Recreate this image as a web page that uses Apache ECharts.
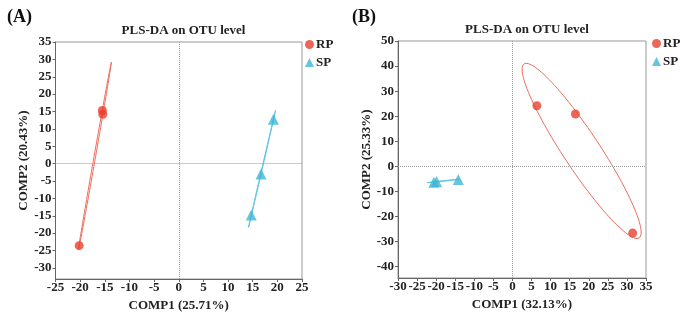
<!DOCTYPE html>
<html>
<head>
<meta charset="utf-8">
<script src="https://cdn.jsdelivr.net/npm/echarts@6/dist/echarts.min.js"></script>
<style>
  html, body { margin: 0; padding: 0; background: #fff; }
  #main { width: 685px; height: 312px; }
</style>
</head>
<body>
<div id="main"></div>
<script>
	// 数据 (A)
	var rpA_x = [-15.5, -15.4, -20.2];
	var rpA_y = [15.3, 14.2, -23.6];
	var spA_x = [19.2, 16.7, 14.7];
	var spA_y = [12.8, -3.0, -14.8];
	// 数据 (B)
	var rpB_x = [6.4, 16.5, 31.5];
	var rpB_y = [24.2, 20.9, -26.6];
	var spB_x = [-20.6, -19.9, -14.2];
	var spB_y = [-6.3, -6.0, -5.2];

	var yTicksA = [-30, -25, -20, -15, -10, -5, 0, 5, 10, 15, 20, 25, 30, 35];
	var yTicksB = [-40, -30, -20, -10, 0, 10, 20, 30, 40, 50];

	var RED = '#E8412E', CYAN = '#3DB6D5';
	var FONT = 'Liberation Serif';

	function pairs(xs, ys) {
		var out = [];
		for (var i = 0; i < xs.length; i++) out.push([xs[i], ys[i]]);
		return out;
	}

	// 置信椭圆 (由各组样本的协方差求得)
	function ellipse(xs, ys, ka, kb) {
		var n = xs.length, mx = 0, my = 0;
		for (var i = 0; i < n; i++) { mx += xs[i]; my += ys[i]; }
		mx /= n; my /= n;
		var sxx = 0, syy = 0, sxy = 0;
		for (var j = 0; j < n; j++) {
			var dx = xs[j] - mx, dy = ys[j] - my;
			sxx += dx * dx; syy += dy * dy; sxy += dx * dy;
		}
		sxx /= (n - 1); syy /= (n - 1); sxy /= (n - 1);
		var tr = sxx + syy, det = sxx * syy - sxy * sxy;
		var d = Math.sqrt(Math.max(tr * tr / 4 - det, 0));
		var l1 = tr / 2 + d, l2 = Math.max(tr / 2 - d, 0);
		var ang = Math.atan2(l1 - sxx, sxy);
		var a = ka * Math.sqrt(l1), b = kb * Math.sqrt(l2);
		var pts = [];
		for (var t = 0; t <= 120; t++) {
			var th = t / 120 * Math.PI * 2;
			var ex = a * Math.cos(th), ey = b * Math.sin(th);
			pts.push([mx + ex * Math.cos(ang) - ey * Math.sin(ang),
			          my + ex * Math.sin(ang) + ey * Math.cos(ang)]);
		}
		return pts;
	}

	function xAxisCfg(idx, name, min, max) {
		return {
			gridIndex: idx, type: 'value', min: min, max: max, interval: 5,
			name: name, nameLocation: 'middle', nameGap: 16,
			nameTextStyle: { fontFamily: FONT, fontWeight: 'bold', fontSize: 13, color: '#222' },
			axisLine: { onZero: false, lineStyle: { color: '#666' } },
			axisTick: { show: true, length: 3, lineStyle: { color: '#666' } },
			axisLabel: { fontFamily: FONT, fontWeight: 'bold', fontSize: 13, color: '#222', margin: 2 },
			splitLine: { show: false }
		};
	}
	function yAxisCfg(idx, name, min, max, ticks, gap) {
		return {
			gridIndex: idx, type: 'value', min: min, max: max,
			name: name, nameLocation: 'middle', nameGap: gap,
			nameTextStyle: { fontFamily: FONT, fontWeight: 'bold', fontSize: 13, color: '#222' },
			axisLine: { onZero: false, lineStyle: { color: '#666' } },
			axisTick: { show: true, length: 3, customValues: ticks, lineStyle: { color: '#666' } },
			axisLabel: { fontFamily: FONT, fontWeight: 'bold', fontSize: 13, color: '#222', margin: 4, customValues: ticks },
			splitLine: { show: false }
		};
	}
	function zeroLines() {
		return {
			silent: true, symbol: 'none', label: { show: false },
			lineStyle: { type: 'dotted', color: '#999', width: 1 },
			data: [{ xAxis: 0 }, { yAxis: 0 }]
		};
	}
	function ellSeries(idx, data, color) {
		return {
			type: 'line', xAxisIndex: idx, yAxisIndex: idx, data: data,
			showSymbol: false, symbol: 'none', smooth: false, silent: true, z: 1,
			lineStyle: { color: color, width: 1 }, tooltip: { show: false }
		};
	}
	function legendCfg(left, top) {
		return {
			orient: 'vertical', left: left, top: top, padding: 0,
			itemWidth: 9, itemHeight: 9, itemGap: 5,
			textStyle: { fontFamily: FONT, fontWeight: 'bold', fontSize: 13, color: '#222', padding: [0, 0, 0, -3] },
			data: [{ name: 'RP', icon: 'circle' }, { name: 'SP', icon: 'triangle' }]
		};
	}

	var chart = echarts.init(document.getElementById('main'));
	chart.setOption({
		animation: false,
		title: [
			{ text: '(A)', left: 2, top: 3, textStyle: { fontFamily: FONT, fontWeight: 'bold', fontSize: 18, color: '#111' } },
			{ text: '(B)', left: 347, top: 3, textStyle: { fontFamily: FONT, fontWeight: 'bold', fontSize: 18, color: '#111' } },
			{ text: 'PLS-DA on OTU level', left: 178.5, top: 19, textAlign: 'center',
			  textStyle: { fontFamily: FONT, fontWeight: 'bold', fontSize: 13, color: '#222' } },
			{ text: 'PLS-DA on OTU level', left: 522, top: 18, textAlign: 'center',
			  textStyle: { fontFamily: FONT, fontWeight: 'bold', fontSize: 13, color: '#222' } }
		],
		legend: [legendCfg(305, 38), legendCfg(652, 37)],
		grid: [
			{ left: 55.5, top: 42, width: 246.5, height: 237, show: true, borderColor: '#999', borderWidth: 1, outerBoundsMode: 'none' },
			{ left: 398, top: 41, width: 248, height: 237, show: true, borderColor: '#999', borderWidth: 1, outerBoundsMode: 'none' }
		],
		xAxis: [
			xAxisCfg(0, 'COMP1 (25.71%)', -25, 25),
			xAxisCfg(1, 'COMP1 (32.13%)', -30, 35)
		],
		yAxis: [
			yAxisCfg(0, 'COMP2 (20.43%)', -33.2, 35, yTicksA, 20),
			yAxisCfg(1, 'COMP2 (25.33%)', -44.5, 50, yTicksB, 18)
		],
		series: [
			ellSeries(0, ellipse(rpA_x, rpA_y, 1.23, 1.3), '#EE6B5C'),
			ellSeries(0, ellipse(spA_x, spA_y, 1.23, 1.3), '#5CC3DE'),
			ellSeries(1, ellipse(rpB_x, rpB_y, 1.23, 1.3), '#EE6B5C'),
			ellSeries(1, ellipse(spB_x, spB_y, 1.23, 1.3), '#5CC3DE'),
			{ name: 'RP', type: 'scatter', xAxisIndex: 0, yAxisIndex: 0, data: pairs(rpA_x, rpA_y),
			  symbol: 'circle', symbolSize: 9, itemStyle: { color: RED }, z: 3, markLine: zeroLines() },
			{ name: 'SP', type: 'scatter', xAxisIndex: 0, yAxisIndex: 0, data: pairs(spA_x, spA_y),
			  symbol: 'triangle', symbolSize: 11, itemStyle: { color: CYAN }, z: 3 },
			{ name: 'RP', type: 'scatter', xAxisIndex: 1, yAxisIndex: 1, data: pairs(rpB_x, rpB_y),
			  symbol: 'circle', symbolSize: 9, itemStyle: { color: RED }, z: 3, markLine: zeroLines() },
			{ name: 'SP', type: 'scatter', xAxisIndex: 1, yAxisIndex: 1, data: pairs(spB_x, spB_y),
			  symbol: 'triangle', symbolSize: 11, itemStyle: { color: CYAN }, z: 3 }
		]
	});
</script>
</body>
</html>
